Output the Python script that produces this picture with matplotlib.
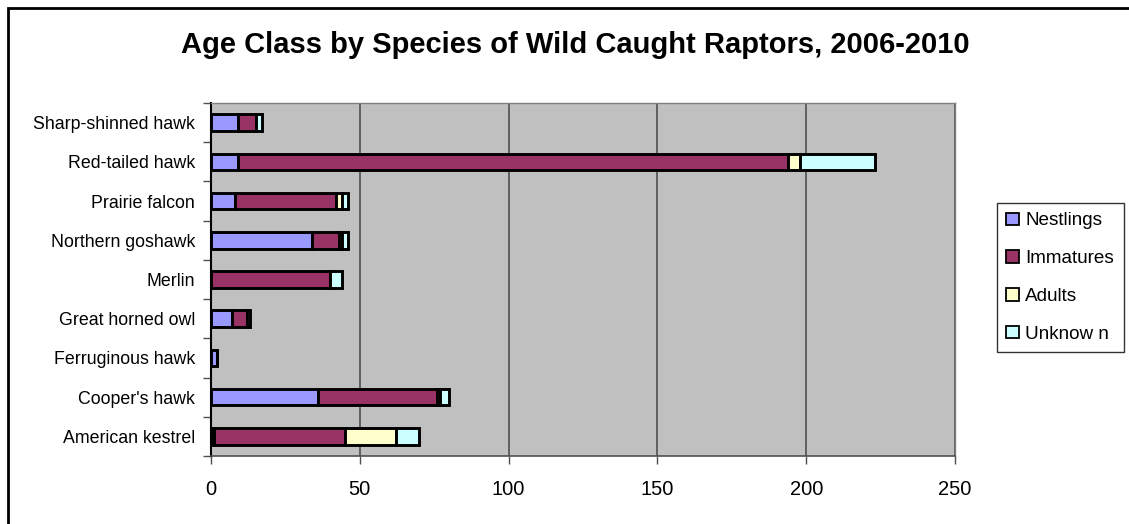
import numpy as np
import matplotlib
matplotlib.use("Agg")
import matplotlib.pyplot as plt
from matplotlib.patches import Rectangle, Patch

plt.rcParams['font.family'] = ['Liberation Sans', 'DejaVu Sans']

# ==== data (bottom to top) ====
species = ["American kestrel", "Cooper's hawk", "Ferruginous hawk", "Great horned owl",
           "Merlin", "Northern goshawk", "Prairie falcon", "Red-tailed hawk",
           "Sharp-shinned hawk"]
nestlings = [1, 36, 2, 7, 0, 34, 8, 9, 9]
immatures = [44, 40, 0, 5, 40, 9, 34, 185, 6]
adults    = [17, 1, 0, 0, 0, 1, 2, 4, 0]
unknown   = [8, 3, 0, 1, 4, 2, 2, 25, 2]

series = ["Nestlings", "Immatures", "Adults", "Unknow n"]
colors = ["#9999FF", "#993366", "#FFFFCC", "#CCFFFF"]
x_ticks = [0, 50, 100, 150, 200, 250]

W, H = 1129, 524
fig = plt.figure(figsize=(W / 100, H / 100), dpi=100)

# outer chart border
fig.patches.append(Rectangle((8 / W, -0.1), 1.2, 1 - 8 / H + 0.1, transform=fig.transFigure,
                             fill=False, edgecolor="black", linewidth=2, zorder=0))

ax = fig.add_axes([211 / W, 1 - 456 / H, (955 - 211) / W, (456 - 103) / H])
ax.set_facecolor("#C0C0C0")

y = np.arange(len(species))
left = np.zeros(len(species))
for vals, col, name in zip([nestlings, immatures, adults, unknown], colors, series):
    vals = np.array(vals, dtype=float)
    ax.barh(y, vals, left=left, height=0.42, color=col, edgecolor="black",
            linewidth=2.1, label=name, zorder=3)
    left += vals

ax.set_xlim(0, 250)
ax.set_ylim(-0.5, len(species) - 0.5)
ax.set_xticks(x_ticks)
ax.set_xticklabels([str(t) for t in x_ticks], fontsize=14.5)
ax.xaxis.grid(True, color="#505050", linewidth=1.2, zorder=1)
ax.tick_params(axis="x", length=6, width=1, color="#505050", pad=11)

ax.set_yticks(y)
ax.set_yticklabels(species, fontsize=12.8)
ax.set_yticks(np.arange(-0.5, len(species)), minor=True)
ax.tick_params(axis="y", which="major", length=0, pad=11.5)
ax.tick_params(axis="y", which="minor", length=6, width=1, color="#505050")

for side in ["top", "right"]:
    ax.spines[side].set_color("#808080")
    ax.spines[side].set_linewidth(1)
ax.spines["bottom"].set_color("#505050")
ax.spines["bottom"].set_linewidth(1.2)
ax.spines["left"].set_color("black")
ax.spines["left"].set_linewidth(1.5)

fig.text(575 / W, 1 - 45 / H,
         "Age Class by Species of Wild Caught Raptors, 2006-2010",
         ha="center", va="center", fontsize=21, fontweight="bold")

handles = [Patch(facecolor=c, edgecolor="black", linewidth=1.3) for c in colors]
leg = fig.legend(handles, series, loc="upper left",
                 bbox_to_anchor=(997 / W, 1 - 203 / H), bbox_transform=fig.transFigure,
                 fontsize=13.6, frameon=True, fancybox=False, borderaxespad=0,
                 handlelength=0.65, handleheight=0.65, handletextpad=0.35,
                 labelspacing=1.1, borderpad=0.5)
leg.get_frame().set_edgecolor("black")
leg.get_frame().set_linewidth(1)

fig.savefig("out.png", dpi=100)
